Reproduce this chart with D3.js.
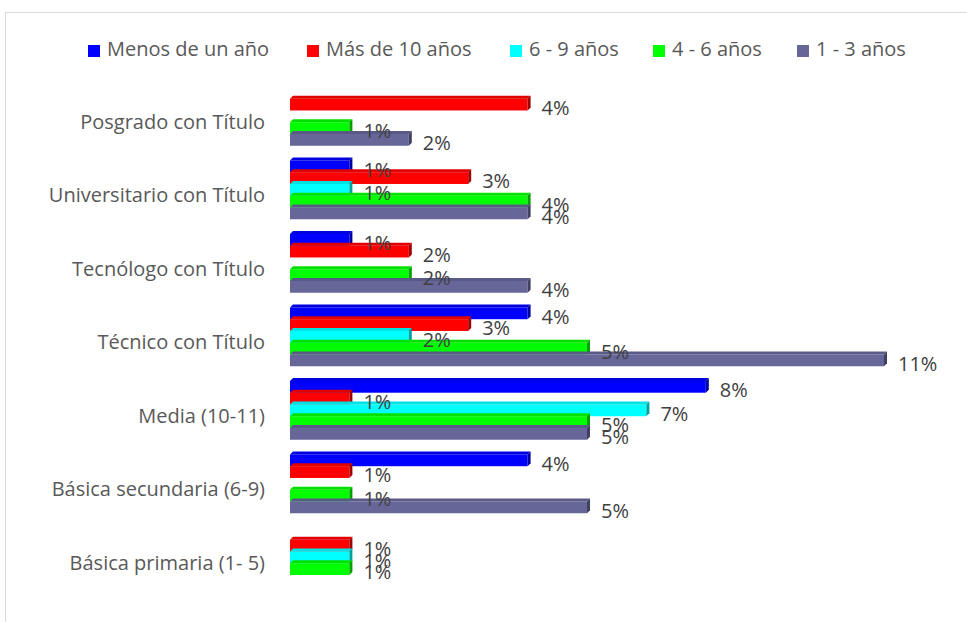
<!DOCTYPE html>
<html>
<head>
<meta charset="utf-8">
<script src="https://cdn.jsdelivr.net/npm/d3@7"></script>
<style>
  body { margin: 0; background: #fff; }
  svg text { font-family: "Open Sans", "Liberation Sans", sans-serif; }
</style>
</head>
<body>
<div id="chart"></div>
<script>
// Data (counts of people; labels show share of the total)
var categories = ["Posgrado con Título", "Universitario con Título", "Tecnólogo con Título",
  "Técnico con Título", "Media (10-11)", "Básica secundaria (6-9)", "Básica primaria (1- 5)"];
var seriesNames = ["Menos de un año", "Más de 10 años", "6 - 9 años", "4 - 6 años", "1 - 3 años"];
var seriesColors = ["#0000ff", "#ff0000", "#00ffff", "#00ff00", "#666699"];

var menosUnAno = [null, 1, 1, 4, 7, 4, null];
var masDiezAnos = [4, 3, 2, 3, 1, 1, 1];
var seisNueveAnos = [null, 1, null, 2, 6, null, 1];
var cuatroSeisAnos = [1, 4, 2, 5, 5, 1, 1];
var unoTresAnos = [2, 4, 4, 10, 5, 5, null];

var seriesValues = [menosUnAno, masDiezAnos, seisNueveAnos, cuatroSeisAnos, unoTresAnos];

var total = d3.sum(seriesValues, function(s) { return d3.sum(s); });

var W = 967, H = 622;
var depth = 3;

var svg = d3.select("#chart").append("svg")
  .attr("width", W)
  .attr("height", H);

// chart frame
svg.append("rect")
  .attr("x", 5.5).attr("y", 12.5)
  .attr("width", 990).attr("height", 640)
  .attr("fill", "none")
  .attr("stroke", "#d9d9d9")
  .attr("stroke-width", 1);

var x = d3.scaleLinear().domain([0, 11]).range([290, 290 + 11 * 59.4]);
var y0 = d3.scaleBand().domain(categories).range([79.6, 594.1])
  .paddingInner(0.2).paddingOuter(0.1);
var y1 = d3.scaleBand().domain(seriesNames).range([0, y0.bandwidth()]);

// category labels
svg.append("g").selectAll("text")
  .data(categories)
  .enter().append("text")
  .attr("x", 265)
  .attr("y", function(d) { return y0(d) + y0.bandwidth() / 2 + 7; })
  .attr("text-anchor", "end")
  .attr("dominant-baseline", "middle")
  .style("font-size", "20px")
  .style("fill", "#595959")
  .text(function(d) { return d; });

// flatten to bars
var bars = [];
categories.forEach(function(c, ci) {
  seriesNames.forEach(function(s, si) {
    var v = seriesValues[si][ci];
    if (v !== null) bars.push({ cat: c, series: s, color: seriesColors[si], value: v });
  });
});

var barG = svg.append("g");
bars.forEach(function(b) {
  var x0 = x(0), x1 = x(b.value);
  var top = y0(b.cat) + y1(b.series);
  var h = y1.bandwidth();
  var c = d3.color(b.color);
  var g = barG.append("g");
  // front
  g.append("rect")
    .attr("x", x0).attr("y", top)
    .attr("width", x1 - x0).attr("height", h)
    .attr("fill", b.color);
  // top face
  g.append("polygon")
    .attr("points", [[x0, top], [x0 + depth, top - depth], [x1 + depth, top - depth], [x1, top]].join(" "))
    .attr("fill", c.darker(0.35));
  // side face
  g.append("polygon")
    .attr("points", [[x1, top], [x1 + depth, top - depth], [x1 + depth, top + h - depth], [x1, top + h]].join(" "))
    .attr("fill", c.darker(1.3));
});

// value labels
svg.append("g").selectAll("text")
  .data(bars)
  .enter().append("text")
  .attr("x", function(d) { return x(d.value) + 14; })
  .attr("y", function(d) { return y0(d.cat) + y1(d.series) + y1.bandwidth() / 2 + 5; })
  .attr("dominant-baseline", "middle")
  .style("font-size", "20px")
  .style("fill", "#404040")
  .text(function(d) { return Math.round(d.value / total * 100) + "%"; });

// legend
var legendX = [88, 307, 510, 653, 797];
var legend = svg.append("g").selectAll("g")
  .data(seriesNames)
  .enter().append("g")
  .attr("transform", function(d, i) { return "translate(" + legendX[i] + ",45)"; });
legend.append("rect")
  .attr("width", 12).attr("height", 12)
  .attr("fill", function(d, i) { return seriesColors[i]; });
legend.append("text")
  .attr("x", 19).attr("y", 6)
  .attr("dominant-baseline", "middle")
  .style("font-size", "20px")
  .style("fill", "#595959")
  .text(function(d) { return d; });
</script>
</body>
</html>
